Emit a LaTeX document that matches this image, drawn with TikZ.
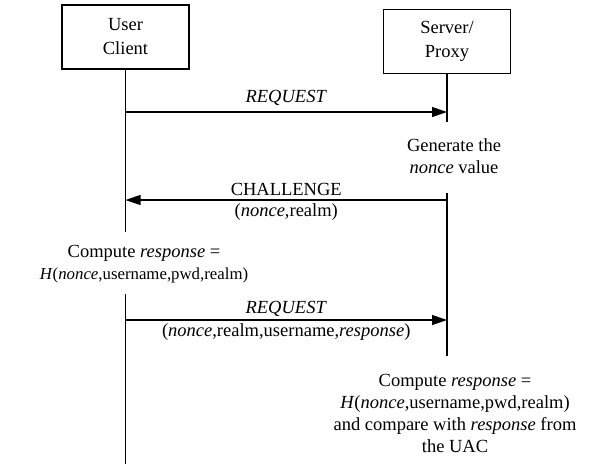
\documentclass[tikz,border=0pt]{standalone}
\usepackage{fontspec}
\setmainfont{Liberation Serif}
\usetikzlibrary{arrows.meta}

\begin{document}
\begin{tikzpicture}[x=1pt,y=-1pt,
  actor/.style={draw,line width=1.8pt,minimum width=127pt,minimum height=64pt,align=center,font=\fontsize{18.5}{24}\selectfont},
  life/.style={line width=1.3pt},
  msg/.style={line width=1.3pt,-{Triangle[length=15pt,width=10pt]}},
  txt/.style={align=center,inner sep=0pt,font=\fontsize{18.5}{22}\selectfont}]
  \useasboundingbox (0,0) rectangle (589,464);
  % the two parties
  \node[actor] (client) at (125.5,37) {User\\Client};
  \node[actor] (server) at (447,41.5) {Server/\\Proxy};
  % lifeline ends
  \coordinate (c1) at (125.5,232);
  \coordinate (c2) at (125.5,294);
  \coordinate (cend) at (125.5,464);
  \coordinate (s1) at (447,122);
  \coordinate (s2) at (447,193);
  \coordinate (send) at (447,356);
  \draw[life] (client.south) -- (c1);
  \draw[life] (c2) -- (cend);
  \draw[life] (server.south) -- (s1);
  \draw[life] (s2) -- (send);
  % messages
  \coordinate (req1a) at (125.5,112);
  \coordinate (req1b) at (447,112);
  \coordinate (chala) at (447,200);
  \coordinate (chalb) at (125.5,200);
  \coordinate (req2a) at (125.5,320);
  \coordinate (req2b) at (447,320);
  \draw[msg] (req1a) -- node[above,txt,yshift=6pt] {\textit{REQUEST}} (req1b);
  \draw[msg] (chala) -- node[above,txt,yshift=4pt] {CHALLENGE}
                        node[below,txt,yshift=-3pt] {(\textit{nonce},realm)} (chalb);
  \draw[msg] (req2a) -- node[above,txt,yshift=3pt] {\textit{REQUEST}}
                        node[below,txt,yshift=-3pt] {(\textit{nonce},realm,username,\textit{response})} (req2b);
  % notes
  \node[txt] (gen) at (454,156) {Generate the\\\textit{nonce} value};
  \node[txt] (cmp1) at (144,264) {Compute \textit{response} =\\{\fontsize{16.8}{21.5}\selectfont\textit{H}(\textit{nonce},username,pwd,realm)}};
  \node[txt] (cmp2) at (455,413) {Compute \textit{response} =\\\textit{H}(\textit{nonce},username,pwd,realm)\\and compare with \textit{response} from\\the UAC};
\end{tikzpicture}
\end{document}
